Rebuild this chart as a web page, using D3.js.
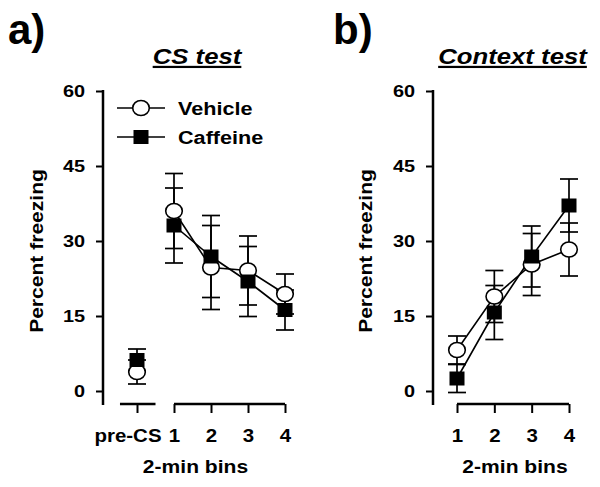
<!DOCTYPE html>
<html><head><meta charset="utf-8">
<script src="https://cdn.jsdelivr.net/npm/d3@7"></script>
<style>body{margin:0;background:#fff}svg{display:block}text{font-family:"Liberation Sans",Arial,sans-serif;font-weight:bold;fill:#000}</style>
</head><body><svg id="c" width="600" height="487"></svg>
<script>
// Panel a: CS test
const csCategories = ["pre-CS", "1", "2", "3", "4"];
const csVehicle = [3.8, 36.0, 24.7, 24.1, 19.4];
const csVehicleErr = [2.4, 7.5, 8.4, 6.9, 4.0];
const csCaffeine = [6.2, 33.1, 26.9, 21.9, 16.2];
const csCaffeineErr = [2.2, 7.5, 8.2, 7.0, 4.0];
// Panel b: Context test
const ctxCategories = ["1", "2", "3", "4"];
const ctxVehicle = [8.2, 18.9, 25.3, 28.3];
const ctxVehicleErr = [2.8, 5.2, 6.2, 5.3];
const ctxCaffeine = [2.5, 15.7, 26.9, 37.1];
const ctxCaffeineErr = [2.8, 5.4, 6.1, 5.3];
const yTicks = [0, 15, 30, 45, 60];
const seriesNames = ["Vehicle", "Caffeine"];

const SX = 1.17; // horizontal stretch of lettering in the original figure
const svg = d3.select("#c");
const y = d3.scaleLinear().domain([0, 60]).range([391, 91]);

function stext(parent, x, yy, txt, size, anchor, extra) {
  return parent.append("text")
    .attr("transform", `translate(${x},${yy}) ${extra || ""} scale(${SX},1)`)
    .attr("text-anchor", anchor || "start").style("font-size", size + "px").text(txt);
}

function panel(opts) {
  const g = svg.append("g");
  const x = d3.scaleLinear().domain(opts.xDomain).range(opts.xRange);
  const ya = g.append("g").attr("transform", `translate(${opts.axisX},0)`)
    .call(d3.axisLeft(y).tickValues(yTicks).tickSize(7).tickPadding(11).tickSizeOuter(0));
  ya.select(".domain").remove();
  ya.selectAll(".tick line").attr("stroke", "#000").attr("stroke-width", 2);
  ya.selectAll(".tick text").style("font-size", "17px").attr("fill", "#000")
    .attr("x", -18 / SX).attr("transform", `scale(${SX},1)`);
  g.append("line").attr("x1", opts.axisX).attr("x2", opts.axisX)
    .attr("y1", y(60) - 1).attr("y2", y(-2.8)).attr("stroke", "#000").attr("stroke-width", 2.5);
  const xAxisY = 404;
  opts.segments.forEach(s => {
    g.append("line").attr("x1", x(s[0])).attr("x2", x(s[1]))
      .attr("y1", xAxisY).attr("y2", xAxisY).attr("stroke", "#000").attr("stroke-width", 2.5);
  });
  const idx = opts.categories.map((c, i) => i + opts.xDomain[0]);
  const xa = g.append("g").attr("transform", `translate(0,${xAxisY})`)
    .call(d3.axisBottom(x).tickValues(idx).tickFormat((d, i) => opts.categories[i])
      .tickSize(9).tickPadding(17).tickSizeOuter(0));
  xa.select(".domain").remove();
  xa.selectAll(".tick line").attr("stroke", "#000").attr("stroke-width", 2);
  xa.selectAll(".tick text").style("font-size", "17.5px").attr("fill", "#000")
    .attr("transform", `scale(${SX},1)`);
  if (opts.preShift) xa.selectAll(".tick text").filter((d, i) => i === 0).attr("x", opts.preShift / SX);
  stext(g, opts.xLabelX, 473, "2-min bins", 18, "middle");
  stext(g, opts.yLabelX, 251, "Percent freezing", 18, "middle", "rotate(-90)");
  stext(g, opts.titleX, 64, opts.title, 22, "middle")
    .style("font-style", "italic").style("text-decoration", "underline");
  g.append("text").attr("x", opts.letterX).attr("y", 44).style("font-size", "42px").text(opts.letter);

  const series = [
    {vals: opts.veh, err: opts.vehErr, type: "circle"},
    {vals: opts.caf, err: opts.cafErr, type: "square"}
  ];
  series.forEach(s => {
    const pts = s.vals.map((v, i) => [x(idx[i]), y(v)]).slice(opts.lineStart);
    g.append("path").attr("d", d3.line()(pts)).attr("fill", "none")
      .attr("stroke", "#000").attr("stroke-width", 1.6);
  });
  series.forEach(s => {
    s.vals.forEach((v, i) => {
      const cx = x(idx[i]);
      g.append("line").attr("x1", cx).attr("x2", cx).attr("y1", y(v - s.err[i])).attr("y2", y(v + s.err[i]))
        .attr("stroke", "#000").attr("stroke-width", 1.7);
      [v - s.err[i], v + s.err[i]].forEach(e => {
        g.append("line").attr("x1", cx - 9).attr("x2", cx + 9).attr("y1", y(e)).attr("y2", y(e))
          .attr("stroke", "#000").attr("stroke-width", 1.7);
      });
    });
  });
  series.forEach(s => {
    s.vals.forEach((v, i) => {
      const cx = x(idx[i]), cy = y(v);
      if (s.type === "circle") {
        g.append("ellipse").attr("cx", cx).attr("cy", cy).attr("rx", 8.3).attr("ry", 7.5)
          .attr("fill", "#fff").attr("stroke", "#000").attr("stroke-width", 1.6);
      } else {
        g.append("rect").attr("x", cx - 7.5).attr("y", cy - 7).attr("width", 15).attr("height", 14)
          .attr("fill", "#000");
      }
    });
  });
  return g;
}

panel({
  categories: csCategories, xDomain: [0, 4], xRange: [137, 285], axisX: 103,
  segments: [[-0.46, 0.5], [1, 4]], veh: csVehicle, vehErr: csVehicleErr,
  caf: csCaffeine, cafErr: csCaffeineErr, lineStart: 1,
  xLabelX: 195.5, yLabelX: 43, titleX: 197, title: "CS test", letter: "a)", letterX: 8,
  preShift: -9.5
});
panel({
  categories: ctxCategories, xDomain: [1, 4], xRange: [457, 569], axisX: 433,
  segments: [[1, 4]], veh: ctxVehicle, vehErr: ctxVehicleErr,
  caf: ctxCaffeine, cafErr: ctxCaffeineErr, lineStart: 0,
  xLabelX: 515, yLabelX: 372, titleX: 512.5, title: "Context test", letter: "b)", letterX: 333
});

const leg = svg.append("g");
seriesNames.forEach((name, i) => {
  const ly = 108 + i * 29;
  leg.append("line").attr("x1", 117).attr("x2", 165).attr("y1", ly).attr("y2", ly)
    .attr("stroke", "#000").attr("stroke-width", 1.6);
  if (i === 0) {
    leg.append("ellipse").attr("cx", 141).attr("cy", ly).attr("rx", 8.3).attr("ry", 7.5)
      .attr("fill", "#fff").attr("stroke", "#000").attr("stroke-width", 1.6);
  } else {
    leg.append("rect").attr("x", 133.5).attr("y", ly - 7).attr("width", 15).attr("height", 14).attr("fill", "#000");
  }
  stext(leg, 178, ly + 6.5, name, 18.5, "start");
});
</script></body></html>
